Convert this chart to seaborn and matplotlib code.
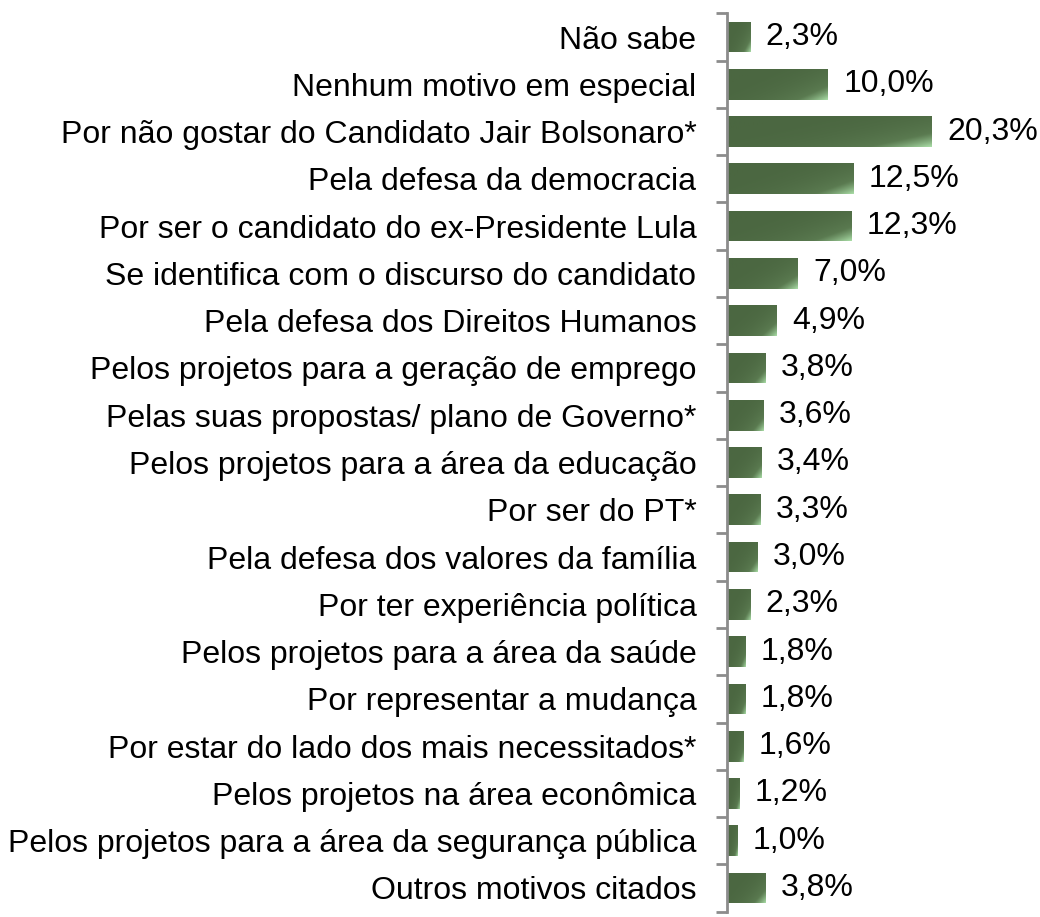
import numpy as np
import pandas as pd
import seaborn as sns
import matplotlib
import matplotlib.pyplot as plt
from matplotlib.colors import LinearSegmentedColormap

sns.set_style('white')
matplotlib.rcParams['font.family'] = ['Liberation Sans', 'DejaVu Sans']
matplotlib.rcParams['font.size'] = 23
matplotlib.rcParams['text.color'] = 'black'
matplotlib.rcParams['ytick.color'] = 'black'

motivos = [
    "Não sabe",
    "Nenhum motivo em especial",
    "Por não gostar do Candidato Jair Bolsonaro*",
    "Pela defesa da democracia",
    "Por ser o candidato do ex-Presidente Lula",
    "Se identifica com o discurso do candidato",
    "Pela defesa dos Direitos Humanos",
    "Pelos projetos para a geração de emprego",
    "Pelas suas propostas/ plano de Governo*",
    "Pelos projetos para a área da educação",
    "Por ser do PT*",
    "Pela defesa dos valores da família",
    "Por ter experiência política",
    "Pelos projetos para a área da saúde",
    "Por representar a mudança",
    "Por estar do lado dos mais necessitados*",
    "Pelos projetos na área econômica",
    "Pelos projetos para a área da segurança pública",
    "Outros motivos citados",
]
percentuais = [2.3, 10.0, 20.3, 12.5, 12.3, 7.0, 4.9, 3.8, 3.6, 3.4,
               3.3, 3.0, 2.3, 1.8, 1.8, 1.6, 1.2, 1.0, 3.8]

df = pd.DataFrame({"motivo": motivos, "pct": percentuais})

fig = plt.figure(figsize=(10.4, 9.17), dpi=100)
ax = fig.add_axes([727 / 1040, 1 - 911.6 / 917, 1 - 727 / 1040, (911.6 - 13.4) / 917])

sns.barplot(data=df, y="motivo", x="pct", orient="h", color="#4b6741",
            width=0.65, ax=ax)

# gradient fill, light towards the bottom-right corner of each bar
cmap = LinearSegmentedColormap.from_list("verde", ["#4b6741", "#5a7a50", "#a8dba5"])
for bar in ax.patches:
    x0, y0 = bar.get_x(), bar.get_y()
    w, h = bar.get_width(), bar.get_height()
    u = np.linspace(0, 1, 100)[None, :]
    v = np.linspace(0, 1, 30)[:, None]
    grad = np.clip((0.6 * u + 0.4 * v), 0, 1) ** 3.5
    im = ax.imshow(grad, cmap=cmap, vmin=0, vmax=1, aspect="auto",
                   extent=(x0, x0 + w, y0 + h, y0), origin="upper",
                   interpolation="bilinear", zorder=bar.get_zorder())
    im.set_clip_path(bar)
    bar.set_facecolor("none")

for i, p in enumerate(percentuais):
    ax.annotate(f"{p:.1f}%".replace(".", ","), xy=(p, i), xytext=(11, 0),
                textcoords="offset points", va="center", ha="left", fontsize=23)

ax.set_xlim(0, 31)
ax.set_ylim(len(motivos) - 0.5, -0.5)
ax.set_xlabel("")
ax.set_ylabel("")
ax.set_xticks([])
for s in ["top", "right", "bottom"]:
    ax.spines[s].set_visible(False)
ax.spines["left"].set_color("#8c8c8c")
ax.spines["left"].set_linewidth(2)
ax.set_yticks(np.arange(-0.5, len(motivos), 1), minor=True)
ax.tick_params(axis="y", which="minor", length=8, width=2, color="#8c8c8c", left=True)
ax.tick_params(axis="y", which="major", length=0, pad=22, labelsize=23)

fig.savefig("out.png", dpi=100)
